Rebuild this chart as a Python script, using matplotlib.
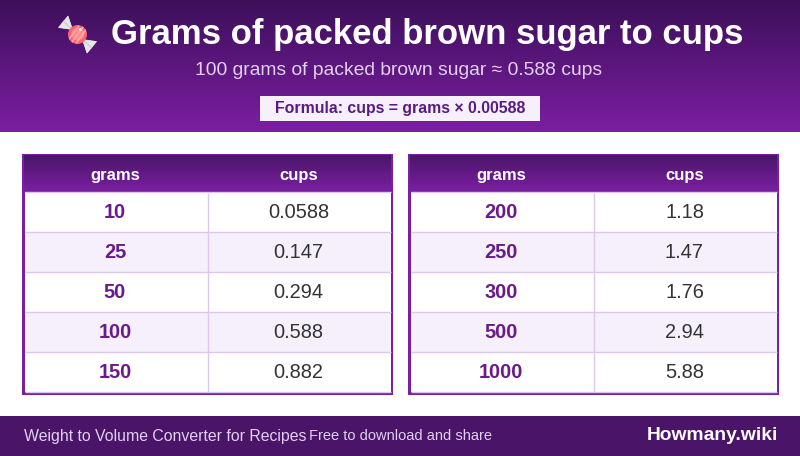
import numpy as np
import matplotlib
matplotlib.use("Agg")
import matplotlib.pyplot as plt
from matplotlib.colors import LinearSegmentedColormap
from matplotlib.patches import Rectangle, Polygon, Circle

plt.rcParams['font.family'] = ['Liberation Sans', 'DejaVu Sans']

W, H = 800, 456

title = "Grams of packed brown sugar to cups"
subtitle = "100 grams of packed brown sugar \u2248 0.588 cups"
formula = "Formula: cups = grams \u00d7 0.00588"
footer_left = "Weight to Volume Converter for Recipes"
footer_mid = "Free to download and share"
footer_right = "Howmany.wiki"
columns = ["grams", "cups"]

grams_left = ["10", "25", "50", "100", "150"]
cups_left = ["0.0588", "0.147", "0.294", "0.588", "0.882"]
grams_right = ["200", "250", "300", "500", "1000"]
cups_right = ["1.18", "1.47", "1.76", "2.94", "5.88"]

DARK = "#3c0f59"
PURPLE = "#7b1fa2"
MID = "#4a1569"
PALE = "#f5f0fb"
LINE = "#dcc8ec"

# the extra half pixel stops 4.56 inches being cut down to 455 rows
fig = plt.figure(figsize=(W / 100, (H + 0.5) / 100), dpi=100)
ax = fig.add_axes([0, 0, 1, 1])
ax.set_xlim(0, W)
ax.set_ylim(H, 0)
ax.axis("off")


def gradient(x0, y0, x1, y1, c0, c1, z=1):
    cmap = LinearSegmentedColormap.from_list("g", [c0, c1])
    grad = np.linspace(0, 1, 256).reshape(-1, 1)
    ax.imshow(grad, cmap=cmap, extent=[x0, x1, y1, y0], aspect="auto", zorder=z)


def draw_table(x0, grams, cups):
    top, head_h, row_h, width, split = 154, 38, 40, 371, 185
    col0, col1 = 93, 276.5
    bottom = top + head_h + row_h * len(grams) + 3
    ax.add_patch(Rectangle((x0, top), width, bottom - top, fc=PURPLE, ec="none", zorder=2))
    ax.add_patch(Rectangle((x0 + 2.5, top + 2), width - 5, bottom - top - 4.5, fc="white", ec="none", zorder=2.1))
    gradient(x0 + 2, top + 2, x0 + width - 2, top + head_h, MID, PURPLE, z=2.2)
    # a light rule closes the header off from the first row
    ax.plot([x0 + 2.5, x0 + width - 2.5], [top + head_h + 0.5] * 2, color=LINE, lw=1, zorder=3, solid_capstyle="butt")
    for pos, label in zip((col0, col1), columns):
        ax.text(x0 + pos, top + head_h / 2 + 2.5, label, color="white", fontsize=12,
                fontweight="bold", ha="center", va="center", zorder=5)
    for i, (g, c) in enumerate(zip(grams, cups)):
        y = top + head_h + i * row_h
        if i % 2 == 1:
            ax.add_patch(Rectangle((x0 + 2.5, y), width - 5, row_h, fc=PALE, ec="none", zorder=2.5))
        ax.plot([x0 + 2.5, x0 + width - 2.5], [y + row_h] * 2, color=LINE, lw=1, zorder=3, solid_capstyle="butt")
        ax.text(x0 + col0, y + row_h / 2, g, color="#6a1b8a", fontsize=14.4, fontweight="bold",
                ha="center", va="center", zorder=5)
        ax.text(x0 + col1, y + row_h / 2, c, color="#333333", fontsize=14.4,
                ha="center", va="center", zorder=5)
    ax.plot([x0 + split + 0.5] * 2, [top + head_h + 1, bottom - 3], color=LINE, lw=1, zorder=3, solid_capstyle="butt")


def draw_candy(cx, cy):
    for sign in (-1, 1):
        wing = [(cx + sign * 5, cy + sign * 5),
                (cx + sign * 9.5, cy + sign * 18.5),
                (cx + sign * 19, cy + sign * 7)]
        ax.add_patch(Polygon(wing, fc="#e6e6e6", ec="#f4f4f4", lw=0.5, zorder=3))
        ax.plot([cx + sign * 6, cx + sign * 14], [cy + sign * 6, cy + sign * 13], color="#cfcfcf", lw=1, zorder=3.1)
    body = Circle((cx, cy), 9.5, fc="#f8636e", ec="none", zorder=4)
    ax.add_patch(body)
    ax.add_patch(Circle((cx + 0.5, cy - 0.5), 6.5, fc="#fb8a90", ec="none", zorder=4))
    for off in (-5, 0, 5):
        stripe, = ax.plot([cx + off - 6, cx + off + 6], [cy + 8, cy - 8], color="#ffa6aa", lw=1.2, zorder=4.1)
        stripe.set_clip_path(body)
    ax.add_patch(Circle((cx + 3, cy - 5), 1.5, fc="#ffe0e0", ec="none", zorder=5))


# header band
gradient(0, 0, W, 132, DARK, PURPLE)
draw_candy(77.5, 35)
ax.text(427.5, 34, title, color="white", fontsize=25, fontweight="bold", ha="center", va="center", zorder=5)
ax.text(398.5, 70, subtitle, color="#e1d0ee", fontsize=13.9, ha="center", va="center", zorder=5)
ax.add_patch(Rectangle((260, 96), 280, 25, fc=PALE, ec="none", zorder=3))
ax.text(400, 108, formula, color="#5a1a82", fontsize=11.4, fontweight="bold", ha="center", va="center", zorder=5)

draw_table(22, grams_left, cups_left)
draw_table(408, grams_right, cups_right)

# footer band
ax.add_patch(Rectangle((0, 416), W, 40, fc=MID, ec="none", zorder=2))
ax.text(24, 436, footer_left, color="#e1d0ee", fontsize=11.4, ha="left", va="center", zorder=5)
ax.text(309, 436, footer_mid, color="#e1d0ee", fontsize=10.5, ha="left", va="center", zorder=5)
ax.text(778.5, 435, footer_right, color="white", fontsize=13.9, fontweight="bold", ha="right", va="center", zorder=5)

ax.set_xlim(0, W)
ax.set_ylim(H, 0)
fig.savefig("out.png", dpi=100)
